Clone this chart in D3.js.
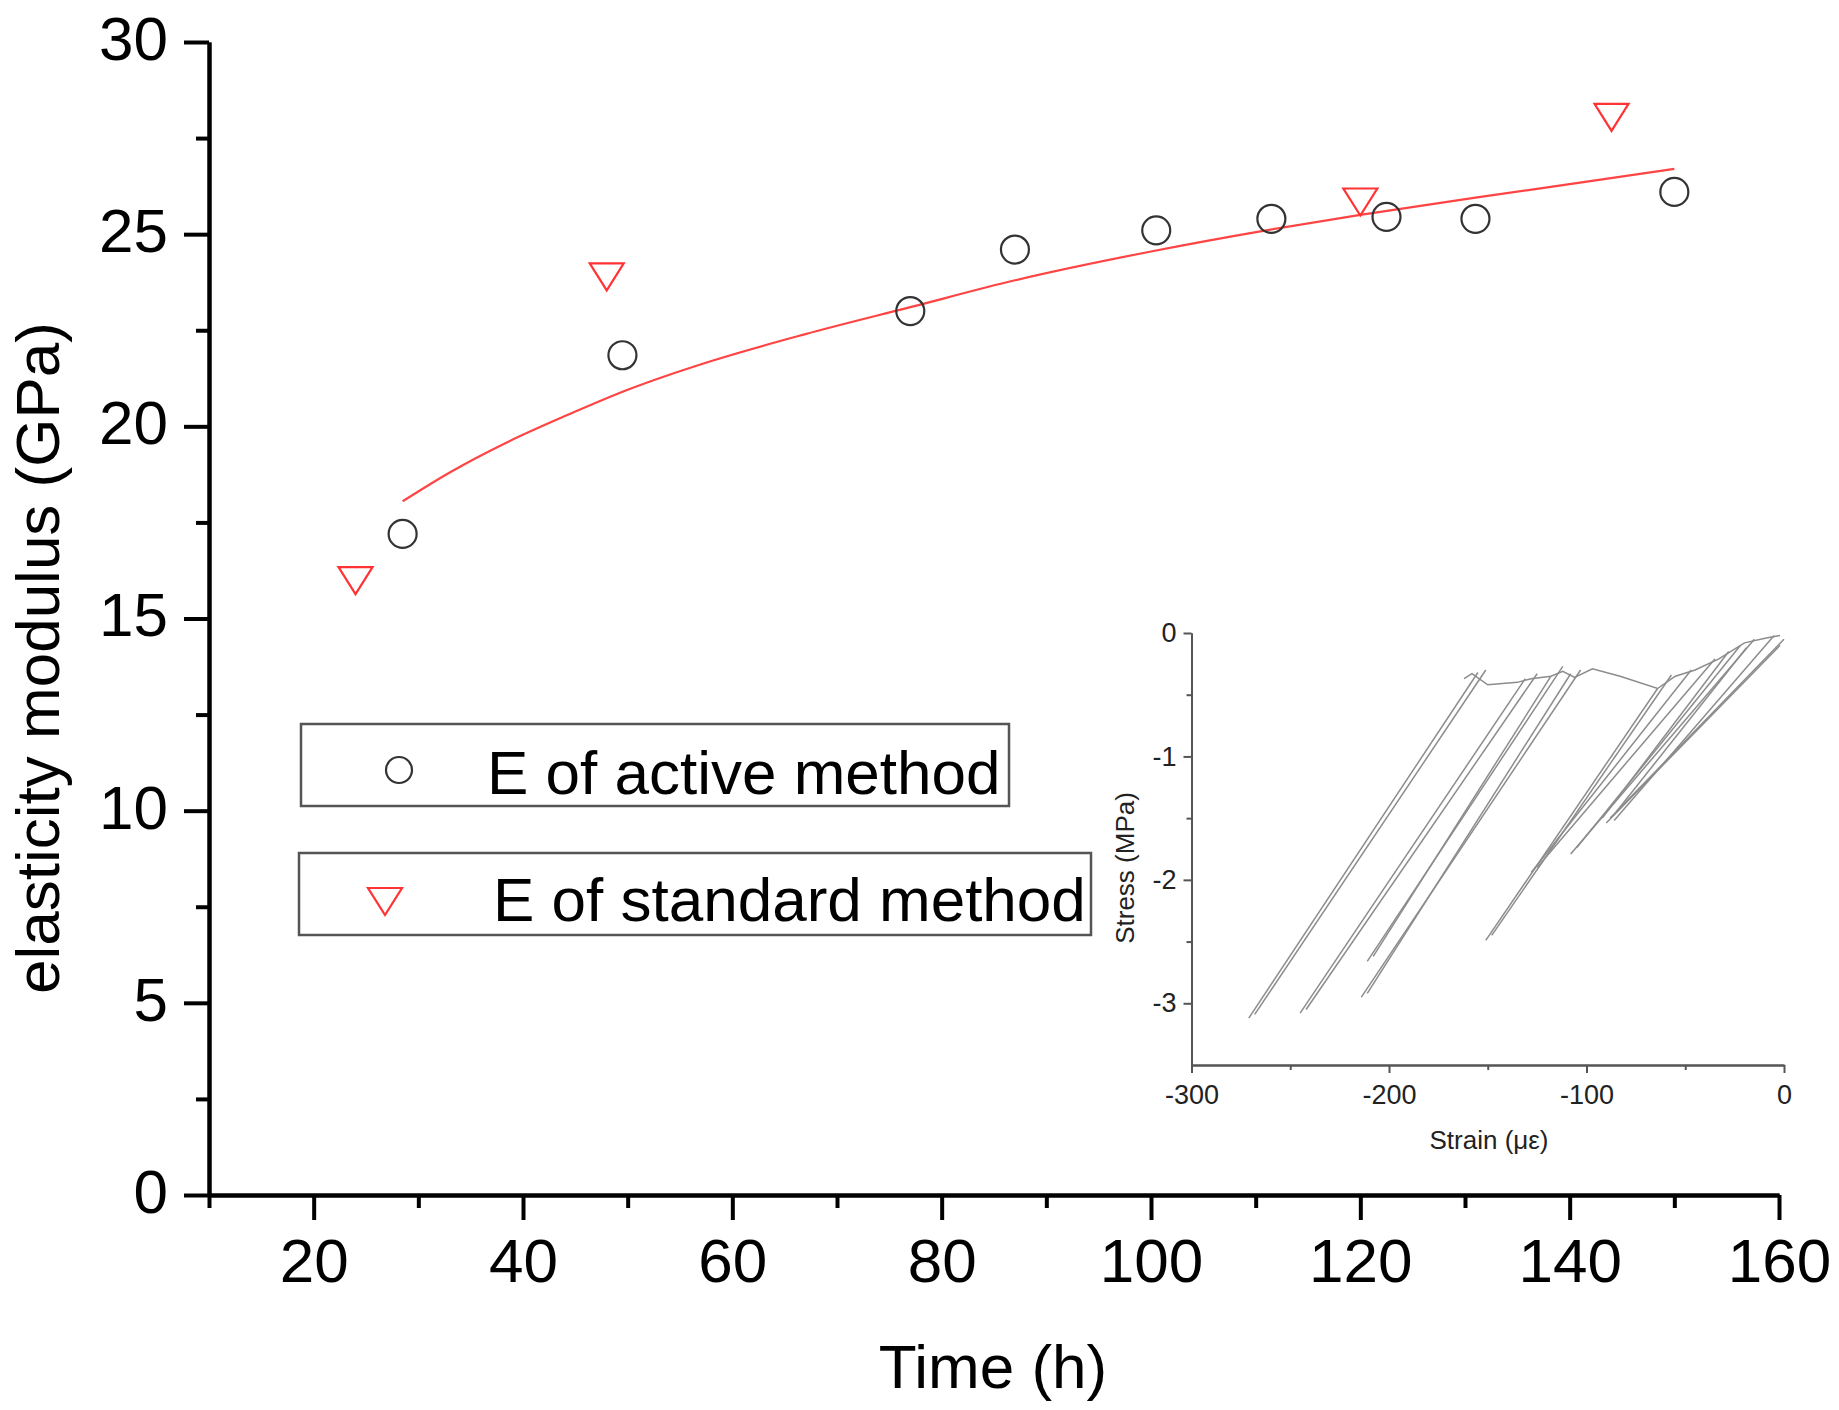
<!DOCTYPE html>
<html>
<head>
<meta charset="utf-8">
<script src="https://cdn.jsdelivr.net/npm/d3@7"></script>
<style>
  body { margin: 0; background: #fff; }
  svg { display: block; font-family: "Liberation Sans", Arial, sans-serif; }
</style>
</head>
<body>
<svg id="chart" width="1839" height="1410"></svg>
<script>
// Elasticity modulus readings (GPa) against curing time (h)
var active_time = [28.5, 49.5, 77, 87, 100.5, 111.5, 122.5, 131, 150];
var active_E    = [17.2, 21.85, 23.0, 24.6, 25.1, 25.4, 25.45, 25.4, 26.1];

var standard_time = [24, 48, 120, 144];
var standard_E    = [16.0, 23.9, 25.85, 28.05];

// Fitted curve
var fit_time = [28.5, 33, 38.6, 44.3, 50, 58, 67, 77, 87, 100, 111, 120, 131, 140, 150];
var fit_E    = [18.05, 18.8, 19.6, 20.3, 20.95, 21.7, 22.4, 23.1, 23.8, 24.55, 25.1, 25.5, 25.95, 26.3, 26.7];

var x_major = [20, 40, 60, 80, 100, 120, 140, 160];
var x_minor = [10, 30, 50, 70, 90, 110, 130, 150];
var y_major = [0, 5, 10, 15, 20, 25, 30];
var y_minor = [2.5, 7.5, 12.5, 17.5, 22.5, 27.5];

var legend_labels = ["E of active method", "E of standard method"];

// Inset: stress-strain loops, each stroke a list of [strain (µε), stress (MPa)]
var inset_plateau = [[-162, -0.37], [-158, -0.33], [-150, -0.42], [-135, -0.40], [-128, -0.37],
                     [-118, -0.35], [-112, -0.31], [-106, -0.36], [-97, -0.29], [-83, -0.35],
                     [-64, -0.45], [-55, -0.35], [-45, -0.30], [-33, -0.21], [-20, -0.08],
                     [-9, -0.04], [-2, -0.02]];
var inset_strokes = [
    [[-271, -3.12], [-155, -0.32]],
    [[-268, -3.09], [-151, -0.30]],
    [[-245, -3.08], [-131, -0.37]],
    [[-242, -3.05], [-125, -0.33]],
    [[-211, -2.66], [-112, -0.27]],
    [[-208, -2.62], [-118, -0.35]],
    [[-214, -2.95], [-103, -0.30]],
    [[-211, -2.92], [-108, -0.33]],
    [[-151, -2.49], [-64, -0.45]],
    [[-148, -2.45], [-57, -0.34]],
    [[-128, -1.94], [-47, -0.30]],
    [[-125, -1.90], [-35, -0.21]],
    [[-108, -1.79], [-15, -0.05]],
    [[-105, -1.74], [-22, -0.10]],
    [[-90, -1.54], [-2, -0.10]],
    [[-88, -1.50], [0, -0.05]],
    [[-86, -1.52], [-5, -0.02]],
    [[-85, -1.45], [-19, -0.12]],
    [[-92, -1.50], [-28, -0.15]]
];
var inset_x_major = [-300, -200, -100, 0];
var inset_x_minor = [-250, -150, -50];
var inset_y_major = [0, -1, -2, -3];
var inset_y_minor = [-0.5, -1.5, -2.5];

var svg = d3.select("#chart");

var x = d3.scaleLinear().domain([10, 160]).range([209, 1779]);
var y = d3.scaleLinear().domain([0, 30]).range([1195, 42]);

function style_axis(g, width, size) {
    g.selectAll("path.domain").attr("stroke", "#000").attr("stroke-width", width);
    g.selectAll(".tick line").attr("stroke", "#000").attr("stroke-width", width);
    g.selectAll(".tick text").attr("fill", "#000").attr("font-size", size)
        .attr("font-family", "Liberation Sans, Arial, sans-serif");
}

// Main axes
var gx = svg.append("g").attr("transform", "translate(0,1195)")
    .call(d3.axisBottom(x).tickValues(x_major).tickSize(25).tickSizeOuter(0)
        .tickPadding(18).tickFormat(d3.format("d")));
style_axis(gx, 4, 62);
var gxm = svg.append("g").attr("transform", "translate(0,1195)")
    .call(d3.axisBottom(x).tickValues(x_minor).tickSize(13).tickSizeOuter(0).tickFormat(""));
style_axis(gxm, 4, 62);

var gy = svg.append("g").attr("transform", "translate(209,0)")
    .call(d3.axisLeft(y).tickValues(y_major).tickSize(25).tickSizeOuter(0)
        .tickPadding(16).tickFormat(d3.format("d")));
style_axis(gy, 4, 62);
gy.selectAll(".tick text").attr("dy", "0.28em");
var gym = svg.append("g").attr("transform", "translate(209,0)")
    .call(d3.axisLeft(y).tickValues(y_minor).tickSize(13).tickSizeOuter(0).tickFormat(""));
style_axis(gym, 4, 62);

// Axis titles
svg.append("text")
    .attr("x", 993).attr("y", 1388)
    .attr("text-anchor", "middle").attr("font-size", 62)
    .text("Time (h)");
svg.append("text")
    .attr("transform", "translate(59,658) rotate(-90)")
    .attr("text-anchor", "middle").attr("font-size", 62)
    .text("elasticity modulus (GPa)");

// Fitted curve
var fit = fit_time.map(function (t, i) { return [t, fit_E[i]]; });
svg.append("path")
    .datum(fit)
    .attr("d", d3.line().x(function (d) { return x(d[0]); })
        .y(function (d) { return y(d[1]); }).curve(d3.curveMonotoneX))
    .attr("fill", "none").attr("stroke", "#ff4444").attr("stroke-width", 2.2);

function triangle_path(cx, cy) {
    return "M" + (cx - 17) + "," + (cy - 13) + "L" + (cx + 17) + "," + (cy - 13) +
           "L" + cx + "," + (cy + 14) + "Z";
}

// Active method: open circles
svg.append("g").selectAll("circle")
    .data(active_time)
    .enter().append("circle")
    .attr("cx", function (d) { return x(d); })
    .attr("cy", function (d, i) { return y(active_E[i]); })
    .attr("r", 14)
    .attr("fill", "none").attr("stroke", "#333").attr("stroke-width", 2.2);

// Standard method: open down triangles
svg.append("g").selectAll("path")
    .data(standard_time)
    .enter().append("path")
    .attr("d", function (d, i) { return triangle_path(x(d), y(standard_E[i])); })
    .attr("fill", "none").attr("stroke", "#ff3333").attr("stroke-width", 2.2);

// Legend boxes
var legend = svg.append("g");
legend.append("rect").attr("x", 301).attr("y", 724).attr("width", 708).attr("height", 82)
    .attr("fill", "#fff").attr("stroke", "#555").attr("stroke-width", 2.5);
legend.append("circle").attr("cx", 399).attr("cy", 770).attr("r", 13)
    .attr("fill", "none").attr("stroke", "#333").attr("stroke-width", 2.2);
legend.append("text").attr("x", 487).attr("y", 794).attr("font-size", 62)
    .text(legend_labels[0]);

legend.append("rect").attr("x", 299).attr("y", 853).attr("width", 792).attr("height", 82)
    .attr("fill", "#fff").attr("stroke", "#555").attr("stroke-width", 2.5);
legend.append("path").attr("d", triangle_path(385, 901))
    .attr("fill", "none").attr("stroke", "#ff3333").attr("stroke-width", 2.2);
legend.append("text").attr("x", 493).attr("y", 921).attr("font-size", 62)
    .text(legend_labels[1]);

// Inset stress-strain plot
var xi = d3.scaleLinear().domain([-300, 0]).range([1191.5, 1784]);
var yi = d3.scaleLinear().domain([-3.5, 0]).range([1065, 633]);
var inset = svg.append("g");
var fmt = function (d) { return String(d); };

function style_inset(g) {
    g.selectAll("path.domain").attr("stroke", "#555").attr("stroke-width", 2);
    g.selectAll(".tick line").attr("stroke", "#555").attr("stroke-width", 2);
    g.selectAll(".tick text").attr("fill", "#222").attr("font-size", 27)
        .attr("font-family", "Liberation Sans, Arial, sans-serif");
}

var gix = inset.append("g").attr("transform", "translate(0,1065)")
    .call(d3.axisBottom(xi).tickValues(inset_x_major).tickSize(8).tickSizeOuter(0)
        .tickPadding(12).tickFormat(fmt));
style_inset(gix);
var gixm = inset.append("g").attr("transform", "translate(0,1065)")
    .call(d3.axisBottom(xi).tickValues(inset_x_minor).tickSize(5).tickSizeOuter(0).tickFormat(""));
style_inset(gixm);
var giy = inset.append("g").attr("transform", "translate(1191.5,0)")
    .call(d3.axisLeft(yi).tickValues(inset_y_major).tickSize(8).tickSizeOuter(0)
        .tickPadding(7).tickFormat(fmt));
style_inset(giy);
var giym = inset.append("g").attr("transform", "translate(1191.5,0)")
    .call(d3.axisLeft(yi).tickValues(inset_y_minor).tickSize(5).tickSizeOuter(0).tickFormat(""));
style_inset(giym);

var line_i = d3.line()
    .x(function (d) { return xi(d[0]); })
    .y(function (d) { return yi(d[1]); });

inset.append("g").selectAll("path")
    .data(inset_strokes.concat([inset_plateau]))
    .enter().append("path")
    .attr("d", line_i)
    .attr("fill", "none").attr("stroke", "#8c8c8c").attr("stroke-width", 1.5);

inset.append("text")
    .attr("x", 1489).attr("y", 1149)
    .attr("text-anchor", "middle").attr("font-size", 26).attr("fill", "#222")
    .text("Strain (\u03bc\u03b5)");
inset.append("text")
    .attr("transform", "translate(1134,868) rotate(-90)")
    .attr("text-anchor", "middle").attr("font-size", 26).attr("fill", "#222")
    .text("Stress (MPa)");
</script>
</body>
</html>
